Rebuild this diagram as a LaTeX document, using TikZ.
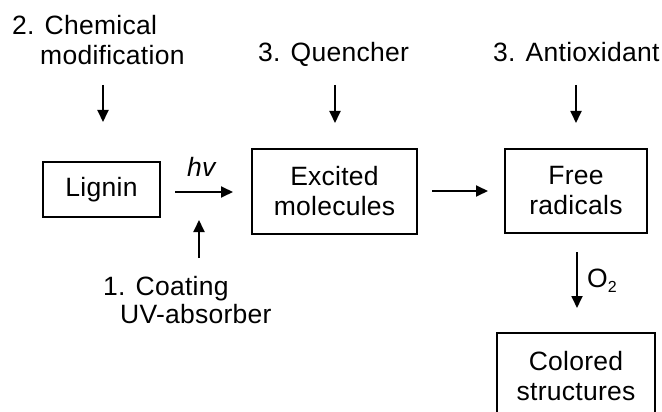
\documentclass[tikz,border=0pt]{standalone}
\usepackage{fontspec}
\setmainfont{Liberation Sans}[LetterSpace=1]
\usetikzlibrary{arrows.meta}
\tikzset{
  box/.style={draw, line width=1.6pt, inner sep=0pt, align=center, font=\fontsize{26.5}{30}\selectfont},
  lbl/.style={inner sep=0pt, anchor=base west, font=\fontsize{26.5}{30}\selectfont},
  arr/.style={line width=1.8pt, -{Triangle[length=12pt,width=11pt]}}
}
\begin{document}
\begin{tikzpicture}[x=1pt,y=-1pt]
\useasboundingbox (0,0) rectangle (662,412);
\clip (0,0) rectangle (662,412);
% boxes
\node[box, minimum width=117pt, minimum height=55pt] (lignin) at (101.5,189.5) {Lignin};
\node[box, minimum width=165pt, minimum height=85pt] (excited) at (334.5,191.5) {Excited\\molecules};
\node[box, minimum width=142pt, minimum height=84pt] (free) at (576,191) {Free\\radicals};
\node[box, minimum width=158pt, minimum height=86pt] (colored) at (576,376) {Colored\\structures};
% labels
\node[lbl] (chem1) at (12,35) {2. Chemical};
\node[lbl] (chem2) at (40,65) {modification};
\node[lbl] (quench) at (258,62) {3. Quencher};
\node[lbl] (antiox) at (493,62) {3. Antioxidant};
\node[lbl] (coat1) at (103,295) {1. Coating};
\node[lbl] (coat2) at (120,323) {UV-absorber};
\node[lbl] (hv) at (187,176) {\itshape hv};
\node[lbl] (o2) at (587,287) {O\raisebox{-5pt}{\fontsize{16}{18}\selectfont 2}};
% arrow end points
\coordinate (c1) at (103,85);  \coordinate (c2) at (103,122);
\coordinate (q1) at (335,85);  \coordinate (q2) at (335,123);
\coordinate (a1) at (576,85);  \coordinate (a2) at (576,123);
\coordinate (h1) at (175,192); \coordinate (h2) at (233,192);
\coordinate (e1) at (432,191); \coordinate (e2) at (488,191);
\coordinate (u1) at (199,258); \coordinate (u2) at (199,220);
\coordinate (o1) at (577,252); \coordinate (o3) at (577,308);
% arrows
\draw[arr] (c1) -- (c2);
\draw[arr] (q1) -- (q2);
\draw[arr] (a1) -- (a2);
\draw[arr] (h1) -- (h2);
\draw[arr] (e1) -- (e2);
\draw[arr] (u1) -- (u2);
\draw[arr] (o1) -- (o3);
\end{tikzpicture}
\end{document}
